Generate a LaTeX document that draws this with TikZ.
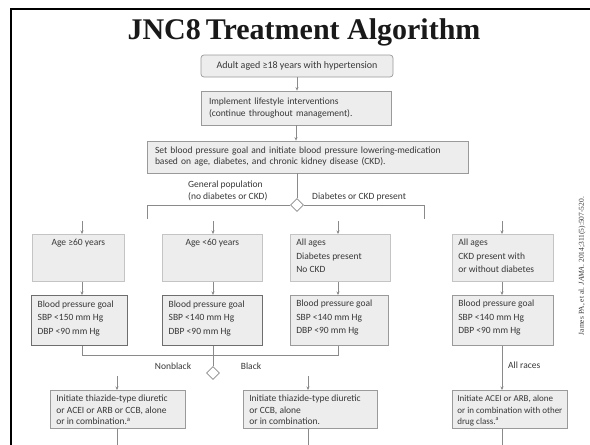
\documentclass[tikz,border=0pt]{standalone}
\usepackage{fontspec}
\setmainfont{Carlito}
\newfontfamily\titlefont{Liberation Serif}
\usetikzlibrary{shapes.geometric,arrows.meta}
\definecolor{boxfill}{HTML}{EDEDED}
\definecolor{boxline}{HTML}{9A9A9A}
\definecolor{lightline}{HTML}{C4C4C4}
\definecolor{darkline}{HTML}{6E6E6E}
\definecolor{txt}{HTML}{383838}
\definecolor{conn}{HTML}{8A8A8A}
\newcommand\bxt[3]{\parbox[c][#2][t]{#1}{#3}}
\begin{document}
\begin{tikzpicture}[x=1pt,y=-1pt,
  every node/.style={text=txt, font=\fontsize{9.5}{12}\selectfont},
  bx/.style={fill=boxfill, draw=boxline, line width=0.7pt, inner xsep=6pt, inner ysep=5pt, anchor=north west},
  topbox/.style={fill=boxfill, draw=boxline, line width=0.7pt, align=left, inner sep=0pt},
  rowbox/.style={bx, draw=lightline},
  goalbox/.style={bx, font=\fontsize{9.5}{13.5}\selectfont},
  strong/.style={draw=darkline, line width=1.3pt},
  drugbox/.style={bx, font=\fontsize{9.5}{11.5}\selectfont},
  link/.style={draw=conn, line width=0.7pt},
  arr/.style={link, -{Stealth[length=3.5pt,width=3pt]}},
  dia/.style={diamond, draw=conn, fill=white, line width=0.7pt, minimum width=13pt, minimum height=13pt, inner sep=0pt},
  lbl/.style={align=left, inner sep=0pt}
]
\useasboundingbox (0,0) rectangle (590,445);
\fill[white] (0,0) rectangle (590,445);
% slide frame
\draw[line width=2.6pt, black] (590,9) -- (11,9) -- (11,445);

% title
\node[font=\titlefont\bfseries\fontsize{30}{34}\selectfont, text=black!90] (title) at (304,32) {JNC8\,Treatment Algorithm};

% top boxes
\node[topbox, rounded corners=3pt, minimum width=192pt, minimum height=22pt, font=\fontsize{10}{12}\selectfont] (b1) at (297,66) {Adult aged ≥18 years with hypertension};
\node[topbox, minimum width=190pt, minimum height=34pt, text width=174pt] (b2) at (296,108) {Implement lifestyle interventions\\(continue throughout management).};
\node[topbox, minimum width=321pt, minimum height=32pt, text width=305pt, font=\fontsize{9.5}{11}\selectfont] (b3) at (307.5,157) {Set blood pressure goal and initiate blood pressure lowering-medication\\based on age, diabetes, and chronic kidney disease (CKD).};

\draw[arr] (b1.south) -- (b1.south |- b2.north);
\draw[arr] (b2.south) -- (b2.south |- b3.north);

\node[dia] (d1) at (297,205) {};
\draw[link] (d1.north |- b3.south) -- (d1.north);
\node[lbl, anchor=west] (lgen) at (188,191) {General population\\(no diabetes or CKD)};
\node[lbl, anchor=west] (ldia) at (312,197) {Diabetes or CKD present};

\coordinate (gl) at (147,219);
\coordinate (gr) at (424,219);
\draw[link] (d1.west) -| (gl);
\draw[link] (d1.east) -| (gr);

% column x positions
\coordinate (xA) at (82,221);
\coordinate (xB) at (213,221);
\coordinate (xC) at (338,221);
\coordinate (xD) at (502,221);

% row 1
\node[rowbox] (rA) at (32,234) {\bxt{80pt}{37pt}{\centering Age ≥60 years}};
\node[rowbox] (rB) at (162,234) {\bxt{88pt}{37pt}{\centering Age <60 years}};
\node[rowbox, font=\fontsize{9.5}{13.5}\selectfont] (rC) at (290,234) {\bxt{88pt}{37pt}{\raggedright All ages\\Diabetes present\\No CKD}};
\node[rowbox, font=\fontsize{9.5}{13.5}\selectfont] (rD) at (452,234) {\bxt{89pt}{37pt}{\raggedright All ages\\CKD present with\\or without diabetes}};

\foreach \c/\r in {xA/rA, xB/rB, xC/rC, xD/rD}
  \draw[arr] (\c) -- (\c |- \r.north);

% row 2
\node[goalbox, strong] (gA) at (31,295) {\bxt{84pt}{40pt}{\raggedright Blood pressure goal\\SBP <150 mm Hg\\DBP <90 mm Hg}};
\node[goalbox, strong] (gB) at (162,295) {\bxt{88pt}{40pt}{\raggedright Blood pressure goal\\SBP <140 mm Hg\\DBP <90 mm Hg}};
\node[goalbox] (gC) at (290,295) {\bxt{86pt}{40pt}{\raggedright Blood pressure goal\\SBP <140 mm Hg\\DBP <90 mm Hg}};
\node[goalbox] (gD) at (452,295) {\bxt{89pt}{40pt}{\raggedright Blood pressure goal\\SBP <140 mm Hg\\DBP <90 mm Hg}};

\foreach \c/\r/\g in {xA/rA/gA, xB/rB/gB, xC/rC/gC, xD/rD/gD}
  \draw[arr] (\c |- \r.south) -- (\c |- \g.north);

% race split
\coordinate (jy) at (0,355);
\draw[link] (xA |- gA.south) -- (xA |- jy) -| (xC |- gC.south);
\node[dia] (d2) at (213,373) {};
\draw[link] (xB |- gB.south) -- (d2.north);
\node[lbl] (lnb) at (173,366) {Nonblack};
\node[lbl] (lbk) at (251,366) {Black};
\node[lbl, anchor=west] (lall) at (508,365) {All races};

% row 3
\coordinate (xE) at (117,376);
\coordinate (xF) at (308,376);
\node[drugbox] (bE) at (50,390) {\bxt{123pt}{28pt}{\raggedright Initiate thiazide-type diuretic\\or ACEI or ARB or CCB, alone\\or in combination.\textsuperscript{a}}};
\node[drugbox] (bF) at (243,390) {\bxt{122pt}{28pt}{\raggedright Initiate thiazide-type diuretic\\or CCB, alone\\or in combination.}};
\node[drugbox, inner xsep=5pt, font=\fontsize{9}{11.5}\selectfont] (bG) at (452,390) {\bxt{105pt}{28pt}{\raggedright\mbox{Initiate ACEI or ARB, alone}\\\mbox{or in combination with other}\\\mbox{drug class.\textsuperscript{a}}}};

\draw[arr] (xE) -- (xE |- bE.north);
\draw[arr] (xF) -- (xF |- bF.north);
\draw[arr] (xD |- gD.south) -- (xD |- bG.north);

\coordinate (eE) at (117,445);
\coordinate (eF) at (308,445);
\coordinate (eG) at (502,445);
\draw[link] (eE |- bE.south) -- (eE);
\draw[link] (eF |- bF.south) -- (eF);
\draw[link] (eG |- bG.south) -- (eG);

% citation
\node[rotate=90, font=\titlefont\fontsize{7.5}{9}\selectfont, text=txt] (cite) at (582,266) {James PA, et al. \textit{JAMA}. 2014;311(5):507-520.};
\end{tikzpicture}
\end{document}
